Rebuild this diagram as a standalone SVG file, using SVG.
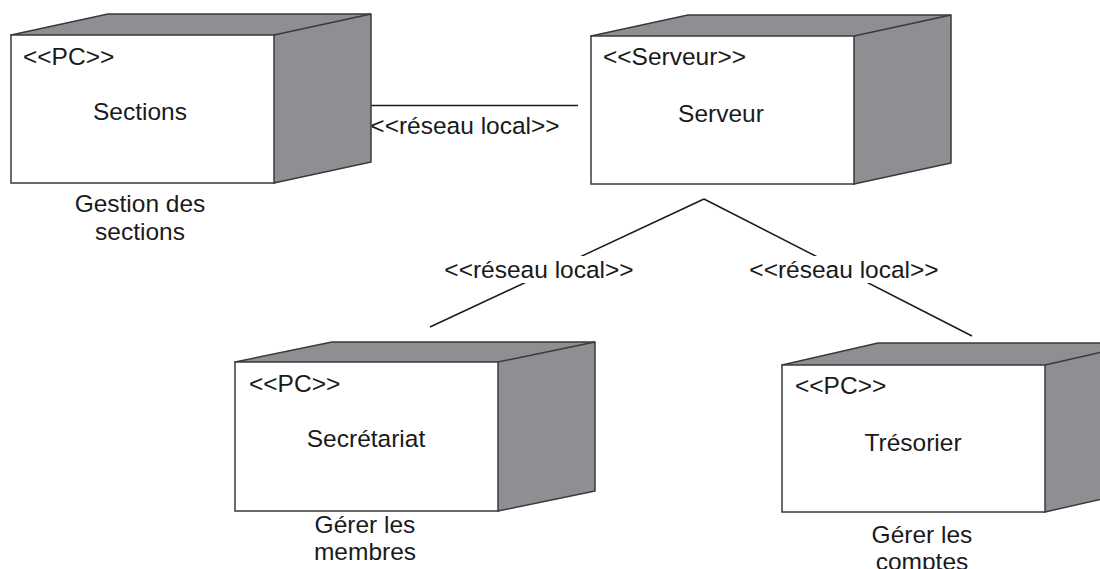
<svg xmlns="http://www.w3.org/2000/svg" width="1100" height="569" viewBox="0 0 1100 569">
<style>
.back{fill:#8e8f93;stroke:#3a3a3a;stroke-width:1.5;stroke-linejoin:round}
.front{fill:#fff;stroke:#3a3a3a;stroke-width:1.5}
.edge{fill:none;stroke:#3a3a3a;stroke-width:1.5}
text{font-family:"Liberation Sans",Arial,sans-serif;font-size:24.5px;fill:#1a1a1a}
.c{text-anchor:middle}
.conn line{stroke:#1a1a1a;stroke-width:1.5}
.lbg{fill:#fff}
</style>
<g id="connectors" class="conn">
<line x1="349" y1="105.5" x2="578" y2="105.5"/>
<text class="c" x="465" y="134">&lt;&lt;réseau local&gt;&gt;</text>
<line x1="704" y1="199" x2="430" y2="327"/>
<line x1="704" y1="199" x2="972" y2="336"/>
<rect class="lbg" x="438" y="256" width="200" height="27"/>
<text class="c" x="539" y="278">&lt;&lt;réseau local&gt;&gt;</text>
<rect class="lbg" x="744" y="256" width="200" height="27"/>
<text class="c" x="844" y="278">&lt;&lt;réseau local&gt;&gt;</text>
</g>
<g id="node-sections">
<polygon class="back" points="11,35 108,14 371,14 371,162 274,183"/>
<line class="edge" x1="274" y1="35" x2="371" y2="14"/>
<rect class="front" x="11" y="35" width="263" height="148"/>
<text x="23" y="65">&lt;&lt;PC&gt;&gt;</text>
<text class="c" x="140" y="120">Sections</text>
<text class="c" x="140" y="212">Gestion des</text>
<text class="c" x="140" y="240">sections</text>
</g>
<g id="node-serveur">
<polygon class="back" points="591,36 688,15 951,15 951,163 854,184"/>
<line class="edge" x1="854" y1="36" x2="951" y2="15"/>
<rect class="front" x="591" y="36" width="263" height="148"/>
<text x="603" y="65">&lt;&lt;Serveur&gt;&gt;</text>
<text class="c" x="721" y="122">Serveur</text>
</g>
<g id="node-secretariat">
<polygon class="back" points="235,362 332,342 595,342 595,491 498,511"/>
<line class="edge" x1="498" y1="362" x2="595" y2="342"/>
<rect class="front" x="235" y="362" width="263" height="149"/>
<text x="249" y="392">&lt;&lt;PC&gt;&gt;</text>
<text class="c" x="366" y="447">Secrétariat</text>
<text class="c" x="365" y="533">Gérer les</text>
<text class="c" x="365" y="560">membres</text>
</g>
<g id="node-tresorier">
<polygon class="back" points="782,365 878,343 1141,343 1141,490 1045,512"/>
<line class="edge" x1="1045" y1="365" x2="1141" y2="343"/>
<rect class="front" x="782" y="365" width="263" height="147"/>
<text x="795" y="394">&lt;&lt;PC&gt;&gt;</text>
<text class="c" x="913" y="451">Trésorier</text>
<text class="c" x="922" y="543">Gérer les</text>
<text class="c" x="922" y="570">comptes</text>
</g>
</svg>
